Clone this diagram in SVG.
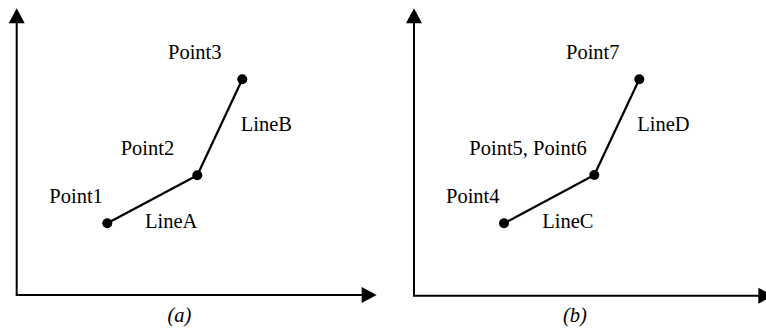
<svg xmlns="http://www.w3.org/2000/svg" width="766" height="331" viewBox="0 0 766 331">
<style>
.t{font-family:"Liberation Serif","Times New Roman",serif;font-size:20.5px;fill:#000}
.cap{font-style:italic;text-anchor:middle}
.ax{stroke:#000;stroke-width:2;fill:none}
.ln{stroke:#000;stroke-width:2.2;fill:none}
.pt{fill:#000}
.ah{fill:#000}
</style>
<rect width="766" height="331" fill="#fff"/>
<g id="connectors">
  <g id="axes-a">
    <line class="ax" x1="16.7" y1="22" x2="16.7" y2="295"/>
    <line class="ax" x1="15.7" y1="295" x2="363" y2="295"/>
    <polygon class="ah" points="16.7,8.3 8.7,23.3 24.7,23.3"/>
    <polygon class="ah" points="376.7,295 361.7,287 361.7,303"/>
  </g>
  <g id="axes-b">
    <line class="ax" x1="414" y1="22" x2="414" y2="295.7"/>
    <line class="ax" x1="413" y1="295.7" x2="760" y2="295.7"/>
    <polygon class="ah" points="414,8.3 406,23.3 422,23.3"/>
    <polygon class="ah" points="773.3,295.7 758.3,287.7 758.3,303.7"/>
  </g>
  <line id="lineA" class="ln" x1="107.3" y1="223.3" x2="197.3" y2="175.3"/>
  <line id="lineB" class="ln" x1="197.3" y1="175.3" x2="242.3" y2="79.3"/>
  <line id="lineC" class="ln" x1="504" y1="223.3" x2="594.3" y2="175"/>
  <line id="lineD" class="ln" x1="594.3" y1="175" x2="639.3" y2="79.3"/>
</g>
<g id="point1"><circle class="pt" cx="107.3" cy="223.3" r="5"/><text class="t" x="49.3" y="202.7">Point1</text></g>
<g id="point2"><circle class="pt" cx="197.3" cy="175.3" r="5"/><text class="t" x="120.7" y="155">Point2</text></g>
<g id="point3"><circle class="pt" cx="242.3" cy="79.3" r="5"/><text class="t" x="168" y="59">Point3</text></g>
<g id="labelA"><text class="t" x="145" y="228.3">LineA</text></g>
<g id="labelB"><text class="t" x="240.7" y="131">LineB</text></g>
<g id="caption-a"><text class="t cap" x="179.5" y="321.5">(a)</text></g>
<g id="point4"><circle class="pt" cx="504" cy="223.3" r="5"/><text class="t" x="446" y="202.5">Point4</text></g>
<g id="point56"><circle class="pt" cx="594.3" cy="175" r="5"/><text class="t" x="469.3" y="155">Point5, Point6</text></g>
<g id="point7"><circle class="pt" cx="639.3" cy="79.3" r="5"/><text class="t" x="566" y="59">Point7</text></g>
<g id="labelC"><text class="t" x="542.3" y="228.3">LineC</text></g>
<g id="labelD"><text class="t" x="637.3" y="131">LineD</text></g>
<g id="caption-b"><text class="t cap" x="575" y="321.5">(b)</text></g>
</svg>
